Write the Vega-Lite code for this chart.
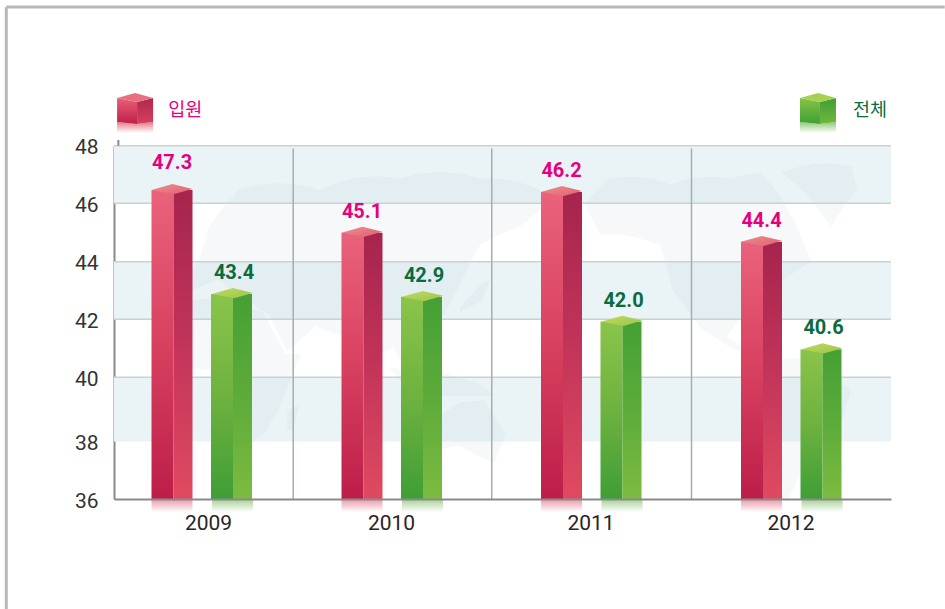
{
"$schema":"https://vega.github.io/schema/vega-lite/v6.json",
"width":777,"height":354,
"padding":{"left":114,"top":145,"right":54,"bottom":110},
"autosize":"none",
"background":"white",
"view":{"stroke":null},
"datasets":{
"bars":[
{"year":2009,"series":"입원","value":47.3,"drawn":46.46},
{"year":2010,"series":"입원","value":45.1,"drawn":44.99},
{"year":2011,"series":"입원","value":46.2,"drawn":46.39},
{"year":2012,"series":"입원","value":44.4,"drawn":44.68},
{"year":2009,"series":"전체","value":43.4,"drawn":42.88},
{"year":2010,"series":"전체","value":42.9,"drawn":42.78},
{"year":2011,"series":"전체","value":42.0,"drawn":41.92},
{"year":2012,"series":"전체","value":40.6,"drawn":40.97}
],
"bands":[{"from":46,"to":48},{"from":42,"to":44},{"from":38,"to":40}],
"grid":[{"level":40},{"level":42},{"level":44},{"level":46},{"level":48}],
"seps":[{"at":2009.48},{"at":2010.5},{"at":2011.5}]
},
"layer":[
{"data":{"name":"bands"},"mark":{"type":"rect","fill":"#eaf4f7"},
 "encoding":{
  "y":{"field":"from","type":"quantitative","title":null,
   "scale":{"domain":[36,38,40,42,44,46,48],"range":[354,296.5,232.3,174.3,116.7,58.3,0.7],"nice":false,"zero":false},
   "axis":{"values":[36,38,40,42,44,46,48],"title":null,"grid":false,"ticks":false,"labelPadding":16,"labelFontSize":21,"labelFont":"Roboto","labelColor":"#333333","labelOffset":2,"domainColor":"#8a8a8a","domainWidth":2}},
  "y2":{"field":"to"}}},
{"data":{"values":{"type":"FeatureCollection","features":[
 {"type":"Feature","properties":{"n":"Africa"},"geometry":{"type":"Polygon","coordinates":[[[-10,35],[10,37],[32,31],[43,12],[51,12],[40,-15],[33,-26],[20,-35],[13,-20],[9,4],[-8,5],[-17,15],[-10,35]]]}},
 {"type":"Feature","properties":{"n":"Eurasia"},"geometry":{"type":"Polygon","coordinates":[[[-10,37],[-9,44],[0,50],[5,60],[20,68],[60,68],[100,70],[140,70],[179,66],[160,60],[140,55],[130,42],[122,30],[108,15],[104,2],[97,15],[80,8],[72,20],[58,25],[44,13],[35,30],[20,38],[10,44],[-10,37]]]}},
 {"type":"Feature","properties":{"n":"Australia"},"geometry":{"type":"Polygon","coordinates":[[[114,-22],[130,-12],[142,-11],[153,-27],[147,-39],[130,-32],[115,-34],[114,-22]]]}},
 {"type":"Feature","properties":{"n":"North America"},"geometry":{"type":"Polygon","coordinates":[[[-168,65],[-156,70],[-125,69],[-95,70],[-80,71],[-62,60],[-55,50],[-75,40],[-81,27],[-90,29],[-97,20],[-85,13],[-78,8],[-95,15],[-110,24],[-124,40],[-130,55],[-160,58],[-168,65]]]}},
 {"type":"Feature","properties":{"n":"Greenland"},"geometry":{"type":"Polygon","coordinates":[[[-70,71],[-35,72],[-32,68],[-45,60],[-55,66],[-70,71]]]}},
 {"type":"Feature","properties":{"n":"South America"},"geometry":{"type":"Polygon","coordinates":[[[-80,9],[-60,10],[-35,-6],[-40,-22],[-58,-38],[-68,-54],[-74,-45],[-70,-18],[-81,-5],[-80,9]]]}},
 {"type":"Feature","properties":{"n":"Indonesia"},"geometry":{"type":"Polygon","coordinates":[[[95,5],[120,3],[140,-3],[148,-9],[120,-9],[105,-7],[95,5]]]}},
 {"type":"Feature","properties":{"n":"Japan"},"geometry":{"type":"Polygon","coordinates":[[[130,33],[140,42],[145,44],[141,36],[130,31],[130,33]]]}},
 {"type":"Feature","properties":{"n":"Madagascar"},"geometry":{"type":"Polygon","coordinates":[[[44,-16],[50,-13],[47,-25],[44,-25],[44,-16]]]}}
 ]},"format":{"type":"json","property":"features"}},
 "projection":{"type":"mercator","scale":115,"rotate":[-150,0],"translate":[386,233]},
 "mark":{"type":"geoshape","fill":"#a5b4c4","fillOpacity":0.09,"stroke":null},
 "encoding":{}},
{"data":{"name":"grid"},"mark":{"type":"rule","color":"#c9d2d2","strokeWidth":1.5},
 "encoding":{"y":{"field":"level","type":"quantitative"}}},
{"data":{"name":"seps"},"mark":{"type":"rule","color":"#a5aeae","strokeWidth":1.5},
 "encoding":{"x":{"field":"at","type":"quantitative"},"y":{"datum":36,"type":"quantitative"},"y2":{"datum":47.9}}},
{"data":{"values":[{"n":"left"}]},"mark":{"type":"rule","color":"#8a8a8a","strokeWidth":2},
 "encoding":{"x":{"datum":2008.5,"type":"quantitative"},"y":{"datum":48,"type":"quantitative"},"y2":{"datum":48.2}}},
{"data":{"values":[{"n":"top"}]},"mark":{"type":"rule","color":"#b8b8b8","strokeWidth":3},
 "encoding":{"x":{"datum":2007.83,"type":"quantitative"},"x2":{"datum":2012.81},"y":{"datum":52.82,"type":"quantitative"}}},
{"data":{"values":[{"n":"left"}]},"mark":{"type":"rule","color":"#b8b8b8","strokeWidth":3},
 "encoding":{"x":{"datum":2007.83,"type":"quantitative"},"y":{"datum":52.82,"type":"quantitative"},"y2":{"datum":32.17}}},

{"data":{"name":"bars"},"transform":[{"filter":"datum.series==='입원'"}],
 "mark":{"type":"bar","orient":"vertical","width":41,"xOffset":-30,"fill":{"gradient":"linear","x1":0,"y1":0,"x2":0,"y2":1,"stops":[{"offset":0,"color":"#d94060"},{"offset":1,"color":"#ffffff"}]},"fillOpacity":0.55},
 "encoding":{"x":{"field":"year","type":"quantitative"},"y":{"datum":36,"type":"quantitative"},"y2":{"datum":35.55}}},
{"data":{"name":"bars"},"transform":[{"filter":"datum.series==='전체'"}],
 "mark":{"type":"bar","orient":"vertical","width":41,"xOffset":30.5,"fill":{"gradient":"linear","x1":0,"y1":0,"x2":0,"y2":1,"stops":[{"offset":0,"color":"#5aaa3a"},{"offset":1,"color":"#ffffff"}]},"fillOpacity":0.55},
 "encoding":{"x":{"field":"year","type":"quantitative"},"y":{"datum":36,"type":"quantitative"},"y2":{"datum":35.55}}},

{"data":{"name":"bars"},"transform":[{"filter":"datum.series==='입원'"}],
 "mark":{"type":"bar","orient":"vertical","width":22,"xOffset":-39.5,"fill":{"gradient":"linear","x1":0,"y1":0,"x2":0,"y2":1,"stops":[{"offset":0,"color":"#ea627c"},{"offset":0.5,"color":"#d8405f"},{"offset":1,"color":"#bc1e49"}]}},
 "encoding":{
  "x":{"field":"year","type":"quantitative","title":null,
   "scale":{"domain":[2008.5,2009,2010,2011,2012,2012.5],"range":[0,88,278,477.5,677.5,777],"nice":false,"zero":false},
   "axis":{"values":[2009,2010,2011,2012],"format":"d","title":null,"grid":false,"ticks":false,"labelPadding":13,"labelFontSize":21,"labelFont":"Roboto","labelColor":"#2b2323","domainColor":"#8a8a8a","domainWidth":2,"zindex":1,"labelOffset":{"condition":{"test":"datum.value===2009","value":6},"value":-1}}},
  "y":{"field":"drawn","type":"quantitative","title":null},"y2":{"datum":36}}},
{"data":{"name":"bars"},"transform":[{"filter":"datum.series==='입원'"}],
 "mark":{"type":"bar","orient":"vertical","width":19,"xOffset":-19,"fill":{"gradient":"linear","x1":0,"y1":0,"x2":0,"y2":1,"stops":[{"offset":0,"color":"#a6244d"},{"offset":0.5,"color":"#c2345a"},{"offset":1,"color":"#e04a60"}]}},
 "encoding":{"x":{"field":"year","type":"quantitative"},"y":{"field":"drawn","type":"quantitative"},"y2":{"datum":36}}},
{"data":{"name":"bars"},"transform":[{"filter":"datum.series==='전체'"}],
 "mark":{"type":"bar","orient":"vertical","width":22,"xOffset":20,"fill":{"gradient":"linear","x1":0,"y1":0,"x2":0,"y2":1,"stops":[{"offset":0,"color":"#8ac44a"},{"offset":0.5,"color":"#6eb23f"},{"offset":1,"color":"#3f9e36"}]}},
 "encoding":{"x":{"field":"year","type":"quantitative"},"y":{"field":"drawn","type":"quantitative"},"y2":{"datum":36}}},
{"data":{"name":"bars"},"transform":[{"filter":"datum.series==='전체'"}],
 "mark":{"type":"bar","orient":"vertical","width":19,"xOffset":40.5,"fill":{"gradient":"linear","x1":0,"y1":0,"x2":0,"y2":1,"stops":[{"offset":0,"color":"#45a035"},{"offset":0.5,"color":"#5dab3a"},{"offset":1,"color":"#7cbb40"}]}},
 "encoding":{"x":{"field":"year","type":"quantitative"},"y":{"field":"drawn","type":"quantitative"},"y2":{"datum":36}}},

{"data":{"name":"bars"},"transform":[{"filter":"datum.series==='입원'"}],
 "mark":{"type":"point","filled":true,"opacity":1,"size":1681,"xOffset":-30,"shape":"M-1,0L0.02,-0.29L1,-0.05L0.07,0.21Z","stroke":null,"fill":{"gradient":"linear","x1":0,"y1":0,"x2":1,"y2":1,"stops":[{"offset":0,"color":"#ee8e92"},{"offset":1,"color":"#e0606e"}]}},
 "encoding":{"x":{"field":"year","type":"quantitative"},"y":{"field":"drawn","type":"quantitative"}}},
{"data":{"name":"bars"},"transform":[{"filter":"datum.series==='전체'"}],
 "mark":{"type":"point","filled":true,"opacity":1,"size":1681,"xOffset":30.5,"shape":"M-1,0L0.02,-0.29L1,-0.05L0.07,0.21Z","stroke":null,"fill":{"gradient":"linear","x1":0,"y1":0,"x2":1,"y2":1,"stops":[{"offset":0,"color":"#c0da60"},{"offset":1,"color":"#9cc648"}]}},
 "encoding":{"x":{"field":"year","type":"quantitative"},"y":{"field":"drawn","type":"quantitative"}}},

{"data":{"name":"bars"},"transform":[{"filter":"datum.series==='입원' && datum.value!==47.3"}],
 "mark":{"type":"text","font":"Roboto","fontWeight":700,"fontSize":20,"dy":-21,"xOffset":-30,"color":"#e6007e"},
 "encoding":{"x":{"field":"year","type":"quantitative"},"y":{"field":"drawn","type":"quantitative"},"text":{"field":"value","type":"quantitative","format":".1f"}}},
{"data":{"name":"bars"},"transform":[{"filter":"datum.value===47.3"}],
 "mark":{"type":"text","font":"Roboto","fontWeight":700,"fontSize":20,"dy":-27,"xOffset":-30,"color":"#e6007e"},
 "encoding":{"x":{"field":"year","type":"quantitative"},"y":{"field":"drawn","type":"quantitative"},"text":{"field":"value","type":"quantitative","format":".1f"}}},
{"data":{"name":"bars"},"transform":[{"filter":"datum.series==='전체'"}],
 "mark":{"type":"text","font":"Roboto","fontWeight":700,"fontSize":20,"dy":-21,"xOffset":32,"color":"#0a6b3c"},
 "encoding":{"x":{"field":"year","type":"quantitative"},"y":{"field":"drawn","type":"quantitative"},"text":{"field":"value","type":"quantitative","format":".1f"}}},

{"data":{"values":[{"series":"입원"}]},
 "mark":{"type":"point","filled":true,"opacity":1,"size":1296,"stroke":null,"shape":"M-1,0.67L0.11,0.78L1,0.67L1,1.28L-1,1.28Z","fill":{"gradient":"linear","x1":0,"y1":0,"x2":0,"y2":1,"stops":[{"offset":0,"color":"#e57a88"},{"offset":1,"color":"#ffffff"}]}},
 "encoding":{"x":{"datum":2008.6,"type":"quantitative"},"y":{"datum":49.24,"type":"quantitative"}}},
{"data":{"values":[{"series":"입원"}]},
 "mark":{"type":"point","filled":true,"opacity":1,"size":1296,"stroke":null,"shape":"M-1,-0.67L0.11,-0.44L0.11,0.78L-1,0.67Z","fill":{"gradient":"linear","x1":0,"y1":0,"x2":0,"y2":1,"stops":[{"offset":0,"color":"#e85e7a"},{"offset":1,"color":"#bf2048"}]}},
 "encoding":{"x":{"datum":2008.6,"type":"quantitative"},"y":{"datum":49.24,"type":"quantitative"}}},
{"data":{"values":[{"series":"입원"}]},
 "mark":{"type":"point","filled":true,"opacity":1,"size":1296,"stroke":null,"shape":"M0.11,-0.44L1,-0.67L1,0.67L0.11,0.78Z","fill":{"gradient":"linear","x1":0,"y1":0,"x2":0,"y2":1,"stops":[{"offset":0,"color":"#ae2850"},{"offset":1,"color":"#d8405e"}]}},
 "encoding":{"x":{"datum":2008.6,"type":"quantitative"},"y":{"datum":49.24,"type":"quantitative"}}},
{"data":{"values":[{"series":"입원"}]},
 "mark":{"type":"point","filled":true,"opacity":1,"size":1296,"stroke":null,"shape":"M-1,-0.67L0,-0.94L1,-0.67L0.11,-0.44Z","fill":"#e8707e"},
 "encoding":{"x":{"datum":2008.6,"type":"quantitative"},"y":{"datum":49.24,"type":"quantitative"}}},
{"data":{"values":[{"series":"전체"}]},
 "mark":{"type":"point","filled":true,"opacity":1,"size":1296,"stroke":null,"shape":"M-1,0.67L0.11,0.78L1,0.67L1,1.28L-1,1.28Z","fill":{"gradient":"linear","x1":0,"y1":0,"x2":0,"y2":1,"stops":[{"offset":0,"color":"#8fc878"},{"offset":1,"color":"#ffffff"}]}},
 "encoding":{"x":{"datum":2012.14,"type":"quantitative"},"y":{"datum":49.24,"type":"quantitative"}}},
{"data":{"values":[{"series":"전체"}]},
 "mark":{"type":"point","filled":true,"opacity":1,"size":1296,"stroke":null,"shape":"M-1,-0.67L0.11,-0.44L0.11,0.78L-1,0.67Z","fill":{"gradient":"linear","x1":0,"y1":0,"x2":0,"y2":1,"stops":[{"offset":0,"color":"#84c444"},{"offset":1,"color":"#3f9e35"}]}},
 "encoding":{"x":{"datum":2012.14,"type":"quantitative"},"y":{"datum":49.24,"type":"quantitative"}}},
{"data":{"values":[{"series":"전체"}]},
 "mark":{"type":"point","filled":true,"opacity":1,"size":1296,"stroke":null,"shape":"M0.11,-0.44L1,-0.67L1,0.67L0.11,0.78Z","fill":{"gradient":"linear","x1":0,"y1":0,"x2":0,"y2":1,"stops":[{"offset":0,"color":"#3f9e35"},{"offset":1,"color":"#70b83d"}]}},
 "encoding":{"x":{"datum":2012.14,"type":"quantitative"},"y":{"datum":49.24,"type":"quantitative"}}},
{"data":{"values":[{"series":"전체"}]},
 "mark":{"type":"point","filled":true,"opacity":1,"size":1296,"stroke":null,"shape":"M-1,-0.67L0,-0.94L1,-0.67L0.11,-0.44Z","fill":"#a8d050"},
 "encoding":{"x":{"datum":2012.14,"type":"quantitative"},"y":{"datum":49.24,"type":"quantitative"}}},
{"data":{"values":[{"series":"입원"}]},
 "mark":{"type":"text","font":"Noto Sans CJK KR","fontSize":18.5,"color":"#e6007e"},
 "encoding":{"x":{"datum":2008.9,"type":"quantitative"},"y":{"datum":49.24,"type":"quantitative"},"text":{"field":"series"}}},
{"data":{"values":[{"series":"전체"}]},
 "mark":{"type":"text","font":"Noto Sans CJK KR","fontSize":18.5,"color":"#0a6b3c"},
 "encoding":{"x":{"datum":2012.415,"type":"quantitative"},"y":{"datum":49.24,"type":"quantitative"},"text":{"field":"series"}}}
]
}
